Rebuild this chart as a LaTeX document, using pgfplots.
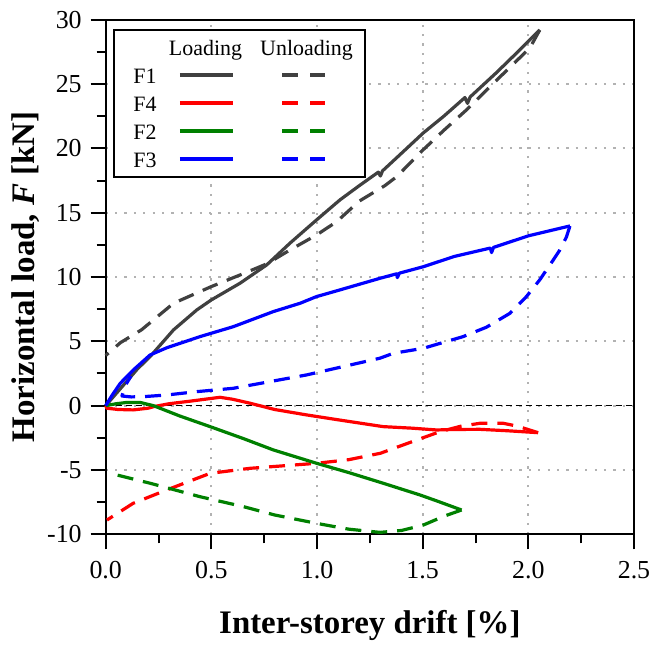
\documentclass[border=0pt]{standalone}
\usepackage{fontspec}
\setmainfont{Liberation Serif}
\usepackage{pgfplots}
\pgfplotsset{compat=1.18}
\definecolor{cF1}{HTML}{404040}
\definecolor{cF4}{HTML}{FF0000}
\definecolor{cF2}{HTML}{008000}
\definecolor{cF3}{HTML}{0000FF}
\begin{document}
\begin{tikzpicture}
\begin{axis}[
  scale only axis, width=264.15bp, height=257.3bp,
  xmin=0, xmax=2.5, ymin=-10, ymax=30,
  xtick={0,0.5,1,1.5,2,2.5}, ytick={-10,-5,0,5,10,15,20,25,30},
  xticklabels={\mbox{0.0},\mbox{0.5},\mbox{1.0},\mbox{1.5},\mbox{2.0},\mbox{2.5}},
  yticklabels={\mbox{-10},\mbox{-5},\mbox{0},\mbox{5},\mbox{10},\mbox{15},\mbox{20},\mbox{25},\mbox{30}},
  minor x tick num=1, minor y tick num=1,
  tick pos=left, tick align=outside,
  major tick length=7.5bp, minor tick length=4.5bp,
  tick style={black, line width=1bp},
  axis line style={line width=1bp},
  grid=major,
  major grid style={black!30, line width=1.1bp, dash pattern=on 1.1bp off 3.6bp},
  x tick label style={yshift=-2.5bp},
  y tick label style={xshift=-1bp},
  tick label style={font=\fontsize{13}{15}\selectfont},
  xlabel={Inter-storey drift [\%]},
  xlabel style={font=\fontsize{16.5}{19}\selectfont\bfseries, at={(axis description cs:0.5,-0.1937)}, anchor=base},
  ylabel={Horizontal load, \textit{F} [kN]},
  ylabel style={font=\fontsize{16.5}{19}\selectfont\bfseries, at={(axis description cs:-0.1509,0.5)}, anchor=center},
  clip=false,
  every axis plot/.append style={line width=1.6bp, line join=round},
]
% zero line
\addplot[black, line width=0.8bp, dash pattern=on 3bp off 2bp] coordinates {(0,0) (2.5,0)};

% F1 loading
\addplot[cF1] coordinates {
(0,0) (0.05,0.95) (0.1,1.9) (0.15,2.85) (0.21,3.81) (0.321,5.89) (0.431,7.44) (0.5,8.22)
(0.636,9.52) (0.762,10.94) (0.872,12.63) (0.998,14.44) (1.109,16.0) (1.2,17.1) (1.29,18.15)
(1.3,17.85) (1.31,18.25) (1.392,19.5) (1.503,21.2) (1.6,22.5) (1.70,23.95) (1.712,23.5)
(1.725,24.0) (1.85,25.9) (1.95,27.5) (2.054,29.2)};
% F1 unloading
\addplot[cF1, dash pattern=on 8bp off 5bp] coordinates {
(2.054,29.2) (2.007,27.8) (1.85,25.3) (1.708,23.0) (1.6,21.4) (1.503,19.9) (1.377,17.8)
(1.321,17.1) (1.2,15.9) (1.093,14.3) (0.998,13.27) (0.872,12.1) (0.762,11.02) (0.636,10.16)
(0.499,9.25) (0.321,7.96) (0.17,5.9) (0.07,4.9) (0,3.9)};

% F4 loading
\addplot[cF4] coordinates {
(0,0) (0.006,-0.2) (0.06,-0.3) (0.13,-0.33) (0.2,-0.2) (0.226,-0.08) (0.3,0.15) (0.4,0.35)
(0.541,0.65) (0.6,0.5) (0.683,0.19) (0.8,-0.3) (0.951,-0.72) (1.1,-1.1) (1.313,-1.63)
(1.45,-1.75) (1.566,-1.89) (1.65,-1.85) (1.771,-1.84) (1.9,-1.95) (2.046,-2.1)};
% F4 unloading
\addplot[cF4, dash pattern=on 8bp off 5bp] coordinates {
(2.046,-2.1) (1.95,-1.6) (1.881,-1.37) (1.771,-1.37) (1.68,-1.6) (1.582,-2.02) (1.45,-2.8)
(1.3,-3.7) (1.15,-4.2) (0.998,-4.48) (0.683,-4.87) (0.494,-5.26) (0.289,-6.55) (0.13,-7.59)
(0.006,-8.89)};

% F2 loading
\addplot[cF2] coordinates {
(0,0) (0.05,0.15) (0.1,0.25) (0.163,0.25) (0.226,0.0) (0.35,-0.8) (0.494,-1.63) (0.65,-2.55)
(0.793,-3.44) (0.998,-4.48) (1.15,-5.2) (1.313,-6.03) (1.487,-6.94) (1.566,-7.4) (1.684,-8.11)};
% F2 unloading
\addplot[cF2, dash pattern=on 8bp off 5bp] coordinates {
(1.684,-8.11) (1.6,-8.6) (1.503,-9.28) (1.4,-9.7) (1.298,-9.85) (1.15,-9.6) (0.998,-9.15)
(0.8,-8.5) (0.652,-7.85) (0.447,-7.08) (0.21,-6.03) (0.053,-5.39)};

% F3 loading
\addplot[cF3] coordinates {
(0,0) (0.03,0.8) (0.069,1.74) (0.131,2.78) (0.21,3.94) (0.289,4.5) (0.447,5.37) (0.5,5.63)
(0.604,6.14) (0.793,7.31) (0.92,7.96) (0.998,8.48) (1.109,9.0) (1.298,9.9) (1.377,10.25)
(1.38,9.95) (1.39,10.3) (1.503,10.8) (1.65,11.6) (1.82,12.25) (1.826,11.9) (1.835,12.3)
(2.0,13.2) (2.197,13.97)};
% F3 unloading
\addplot[cF3, dash pattern=on 8bp off 5bp] coordinates {
(2.197,13.97) (2.18,13.1) (2.149,12.1) (2.117,11.3) (2.054,9.78) (1.991,8.48) (1.913,7.18)
(1.802,6.1) (1.692,5.37) (1.503,4.46) (1.361,4.07) (1.298,3.69) (0.951,2.39) (0.604,1.35)
(0.431,1.09) (0.289,0.83) (0.179,0.70) (0.12,0.68) (0.077,0.75) (0.09,1.5) (0.12,2.3)};

% legend
\path (rel axis cs:0,1) ++(4.15bp,-5.15bp) coordinate (LG);
\draw[line width=1bp, fill=white] (LG) rectangle ++(125.5bp,-73.5bp);
\node[anchor=base, font=\fontsize{11}{13}\selectfont] at ([shift={(45.75bp,-12.5bp)}]LG) {Loading};
\node[anchor=base, font=\fontsize{11}{13}\selectfont] at ([shift={(96.25bp,-12.5bp)}]LG) {Unloading};
\node[anchor=base, font=\fontsize{11}{13}\selectfont] at ([shift={(15.5bp,-26.65bp)}]LG) {F1};
\node[anchor=base, font=\fontsize{11}{13}\selectfont] at ([shift={(15.5bp,-40.65bp)}]LG) {F4};
\node[anchor=base, font=\fontsize{11}{13}\selectfont] at ([shift={(15.5bp,-54.65bp)}]LG) {F2};
\node[anchor=base, font=\fontsize{11}{13}\selectfont] at ([shift={(15.5bp,-68.65bp)}]LG) {F3};
\draw[cF1, line width=1.6bp] ([shift={(33bp,-22.5bp)}]LG) -- ([shift={(59.5bp,-22.5bp)}]LG);
\draw[cF4, line width=1.6bp] ([shift={(33bp,-36.5bp)}]LG) -- ([shift={(59.5bp,-36.5bp)}]LG);
\draw[cF2, line width=1.6bp] ([shift={(33bp,-50.5bp)}]LG) -- ([shift={(59.5bp,-50.5bp)}]LG);
\draw[cF3, line width=1.6bp] ([shift={(33bp,-64.5bp)}]LG) -- ([shift={(59.5bp,-64.5bp)}]LG);
\draw[cF1, line width=1.6bp, dash pattern=on 8bp off 6bp] ([shift={(84bp,-22.5bp)}]LG) -- ([shift={(105.5bp,-22.5bp)}]LG);
\draw[cF4, line width=1.6bp, dash pattern=on 8bp off 6bp] ([shift={(84bp,-36.5bp)}]LG) -- ([shift={(105.5bp,-36.5bp)}]LG);
\draw[cF2, line width=1.6bp, dash pattern=on 8bp off 6bp] ([shift={(84bp,-50.5bp)}]LG) -- ([shift={(105.5bp,-50.5bp)}]LG);
\draw[cF3, line width=1.6bp, dash pattern=on 8bp off 6bp] ([shift={(84bp,-64.5bp)}]LG) -- ([shift={(105.5bp,-64.5bp)}]LG);
% picture extent
\path (rel axis cs:0,0) ++(-52.85bp,-56.35bp) coordinate (bbA);
\path (rel axis cs:1,1) ++(13bp,9.85bp) coordinate (bbB);
\path (bbA) rectangle (bbB);
\end{axis}
\end{tikzpicture}
\end{document}
